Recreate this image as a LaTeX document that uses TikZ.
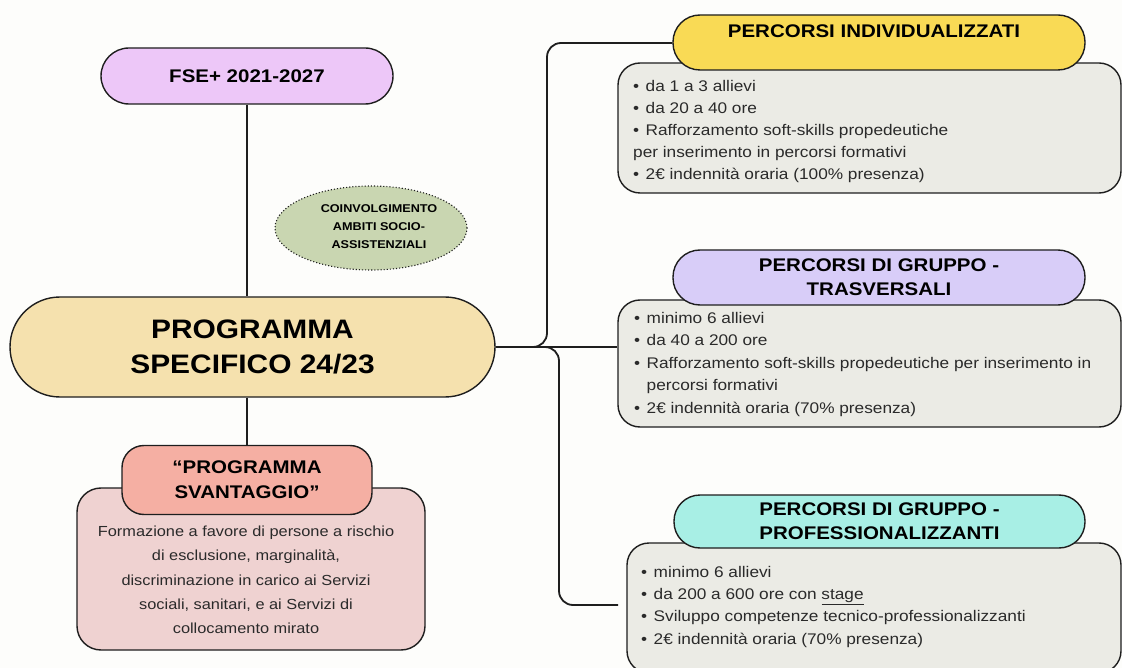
\documentclass[tikz,border=0pt]{standalone}
\usepackage{fontspec}
\setmainfont[FakeStretch=1.12]{Liberation Sans}
\usetikzlibrary{shapes.geometric}
\definecolor{bgc}{HTML}{FDFDFB}
\definecolor{linec}{HTML}{1E1E1E}
\definecolor{txtc}{HTML}{2A2A2A}
\definecolor{fsec}{HTML}{EDC7F8}
\definecolor{progc}{HTML}{F5E1AE}
\definecolor{greenc}{HTML}{C9D6B1}
\definecolor{salmonc}{HTML}{F5AFA3}
\definecolor{pinkc}{HTML}{EFD2D1}
\definecolor{yellowc}{HTML}{F9DA55}
\definecolor{lavc}{HTML}{D8CDF8}
\definecolor{aquac}{HTML}{A8EFE5}
\definecolor{bodyc}{HTML}{EBEBE5}
\newcommand\itm{\makebox[12.5pt][l]{•}}
\tikzset{
  box/.style={draw=linec, line width=1.4pt, inner sep=0pt, align=center},
  conn/.style={draw=linec, line width=1.8pt},
  bodytxt/.style={anchor=north west, inner sep=0pt, align=left, text=txtc, font=\fontsize{15.4}{22}\selectfont},
  hdrtxt/.style={font=\fontsize{18.3}{24}\selectfont\bfseries},
}
\begin{document}
\begin{tikzpicture}[x=1pt,y=1pt]
\useasboundingbox (0,0) rectangle (1122,-668);
\fill[bgc] (0,0) rectangle (1122,-668);

% left side
\node[box, fill=fsec, minimum width=292pt, minimum height=56pt, rounded corners=28pt, font=\fontsize{18.3}{22}\selectfont\bfseries] (fse) at (247,-76) {FSE+ 2021-2027};
\node[box, fill=progc, minimum width=485pt, minimum height=100pt, rounded corners=50pt, font=\fontsize{26.7}{35}\selectfont\bfseries] (prog) at (252.5,-347) {PROGRAMMA\\SPECIFICO 24/23};
\node[ellipse, draw=linec, dotted, line width=1.1pt, fill=greenc, minimum width=192pt, minimum height=84pt, inner sep=0pt] (amb) at (371,-228) {};
\node[align=center, inner sep=0pt, font=\fontsize{11.3}{18}\selectfont\bfseries] (ambt) at (379,-227) {COINVOLGIMENTO\\AMBITI SOCIO-\\ASSISTENZIALI};

\node[box, fill=pinkc, minimum width=348pt, minimum height=162pt, rounded corners=24pt] (svb) at (251,-569) {};
\node[align=center, inner sep=0pt, text=txtc, font=\fontsize{14.6}{24.3}\selectfont] (svt) at (246,-580) {Formazione a favore di persone a rischio\\di esclusione, marginalità,\\discriminazione in carico ai Servizi\\sociali, sanitari, e ai Servizi di\\collocamento mirato};
\node[box, fill=salmonc, minimum width=250pt, minimum height=69pt, rounded corners=22pt, font=\fontsize{18.3}{25}\selectfont\bfseries] (svh) at (247,-480) {“PROGRAMMA\\SVANTAGGIO”};

\draw[conn] (fse.south -| 247,0) -- (prog.north -| 247,0);
\draw[conn] (prog.south -| 247,0) -- (svh.north -| 247,0);

% bodies
\node[box, fill=bodyc, minimum width=503pt, minimum height=130pt, rounded corners=22pt] (b1) at (869.5,-128) {};
\node[box, fill=yellowc, minimum width=412pt, minimum height=55pt, rounded corners=27pt] (h1) at (879,-42.5) {};
\node[hdrtxt, inner sep=0pt] (h1t) at (874,-31) {PERCORSI INDIVIDUALIZZATI};
\node[bodytxt] (t1) at (633,-80) {\itm da 1 a 3 allievi\\\itm da 20 a 40 ore\\\itm Rafforzamento soft-skills propedeutiche\\per inserimento in percorsi formativi\\\itm 2€ indennità oraria (100\% presenza)};

\node[box, fill=bodyc, minimum width=503pt, minimum height=127pt, rounded corners=22pt] (b2) at (869.5,-363.5) {};
\node[box, fill=lavc, minimum width=412pt, minimum height=55pt, rounded corners=27pt, hdrtxt] (h2) at (879,-277.5) {PERCORSI DI GRUPPO -\\TRASVERSALI};
\node[bodytxt, font=\fontsize{15.4}{22.5}\selectfont] (t2) at (634,-312) {\itm minimo 6 allievi\\\itm da 40 a 200 ore\\\itm Rafforzamento soft-skills propedeutiche per inserimento in\\\hspace*{12.5pt}percorsi formativi\\\itm 2€ indennità oraria (70\% presenza)};

\node[box, fill=bodyc, minimum width=494pt, minimum height=130pt, rounded corners=22pt] (b3) at (874,-608) {};
\node[box, fill=aquac, minimum width=411pt, minimum height=53pt, rounded corners=26pt, hdrtxt] (h3) at (879.5,-521.5) {PERCORSI DI GRUPPO -\\PROFESSIONALIZZANTI};
\node[bodytxt, font=\fontsize{15.4}{22.3}\selectfont] (t3) at (641,-566) {\itm minimo 6 allievi\\\itm da 200 a 600 ore con \underline{stage}\\\itm Sviluppo competenze tecnico-professionalizzanti\\\itm 2€ indennità oraria (70\% presenza)};

% right side connectors
\coordinate (j) at (prog.east);
\coordinate (c3) at (618,-605);
\draw[conn, rounded corners=14pt] (j) -- (547,-347) -- (547,-43) -- (h1.west |- 0,-43);
\draw[conn] (j) -- (j -| b2.west);
\draw[conn, rounded corners=14pt] (535,-347) -- (559,-347) -- (559,-605) -- (c3);
\end{tikzpicture}
\end{document}
